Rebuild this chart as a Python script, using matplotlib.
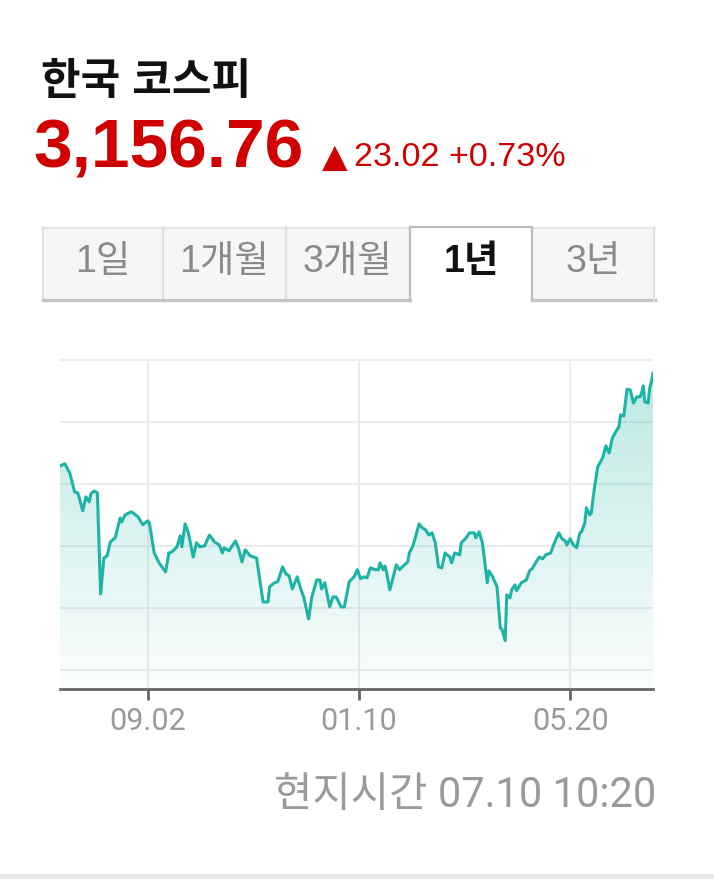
import numpy as np
import matplotlib
matplotlib.use("Agg")
import matplotlib.pyplot as plt
import matplotlib.dates as mdates
from matplotlib.patches import Rectangle, Polygon
from matplotlib.lines import Line2D

plt.rcParams['font.family'] = ['Liberation Sans', 'Noto Sans CJK KR', 'DejaVu Sans']

# KOSPI, 1 year
dates = [
    "2024-07-10", "2024-07-13", "2024-07-16", "2024-07-19", "2024-07-21", "2024-07-24",
    "2024-07-26", "2024-07-28", "2024-07-29", "2024-07-31", "2024-08-02", "2024-08-04",
    "2024-08-06", "2024-08-08", "2024-08-10", "2024-08-13", "2024-08-16", "2024-08-17",
    "2024-08-19", "2024-08-23", "2024-08-27", "2024-08-30", "2024-09-02", "2024-09-03",
    "2024-09-06", "2024-09-09", "2024-09-13", "2024-09-15", "2024-09-17", "2024-09-20",
    "2024-09-22", "2024-09-23", "2024-09-25", "2024-09-27", "2024-09-30", "2024-10-02",
    "2024-10-04", "2024-10-07", "2024-10-10", "2024-10-13", "2024-10-16", "2024-10-18",
    "2024-10-19", "2024-10-22", "2024-10-26", "2024-10-28", "2024-10-30", "2024-11-01",
    "2024-11-04", "2024-11-08", "2024-11-12", "2024-11-15", "2024-11-16", "2024-11-19",
    "2024-11-21", "2024-11-24", "2024-11-26", "2024-11-28", "2024-11-30", "2024-12-03",
    "2024-12-05", "2024-12-07", "2024-12-10", "2024-12-12", "2024-12-15", "2024-12-17",
    "2024-12-18", "2024-12-20", "2024-12-23", "2024-12-25", "2024-12-27", "2024-12-30",
    "2025-01-01", "2025-01-04", "2025-01-07", "2025-01-09", "2025-01-11", "2025-01-13",
    "2025-01-15", "2025-01-17", "2025-01-20", "2025-01-22", "2025-01-23", "2025-01-25",
    "2025-01-26", "2025-01-27", "2025-01-29", "2025-01-31", "2025-02-02", "2025-02-04",
    "2025-02-05", "2025-02-09", "2025-02-10", "2025-02-12", "2025-02-14", "2025-02-16",
    "2025-02-18", "2025-02-20", "2025-02-22", "2025-02-24", "2025-02-26", "2025-02-28",
    "2025-03-02", "2025-03-04", "2025-03-07", "2025-03-08", "2025-03-10", "2025-03-13",
    "2025-03-14", "2025-03-17", "2025-03-19", "2025-03-22", "2025-03-23", "2025-03-25",
    "2025-03-27", "2025-03-30", "2025-03-31", "2025-04-02", "2025-04-05", "2025-04-07",
    "2025-04-08", "2025-04-10", "2025-04-11", "2025-04-13", "2025-04-14", "2025-04-16",
    "2025-04-17", "2025-04-20", "2025-04-23", "2025-04-25", "2025-04-27", "2025-04-29",
    "2025-05-01", "2025-05-03", "2025-05-05", "2025-05-08", "2025-05-10", "2025-05-13",
    "2025-05-15", "2025-05-17", "2025-05-18", "2025-05-20", "2025-05-22", "2025-05-24",
    "2025-05-26", "2025-05-27", "2025-05-29", "2025-05-30", "2025-06-01", "2025-06-02",
    "2025-06-04", "2025-06-06", "2025-06-09", "2025-06-11", "2025-06-13", "2025-06-15",
    "2025-06-17", "2025-06-19", "2025-06-20", "2025-06-22", "2025-06-24", "2025-06-26",
    "2025-06-28", "2025-06-30", "2025-07-02", "2025-07-03", "2025-07-04", "2025-07-05",
    "2025-07-07", "2025-07-08", "2025-07-09", "2025-07-10",
]
values = [
    2858, 2865, 2835, 2774, 2771, 2713,
    2758, 2742, 2768, 2777, 2771, 2445,
    2561, 2568, 2613, 2626, 2690, 2677,
    2700, 2710, 2694, 2668, 2681, 2674,
    2577, 2545, 2516, 2577, 2581, 2597,
    2632, 2597, 2671, 2642, 2564, 2610,
    2597, 2600, 2635, 2613, 2603, 2577,
    2594, 2584, 2616, 2590, 2548, 2587,
    2568, 2561, 2419, 2419, 2468, 2481,
    2484, 2532, 2510, 2503, 2461, 2500,
    2464, 2435, 2364, 2435, 2490, 2490,
    2461, 2481, 2403, 2435, 2435, 2403,
    2403, 2484, 2500, 2523, 2494, 2500,
    2497, 2529, 2523, 2523, 2545, 2523,
    2535, 2516, 2458, 2497, 2539, 2523,
    2529, 2548, 2577, 2597, 2632, 2671,
    2658, 2652, 2635, 2642, 2610, 2532,
    2529, 2577, 2564, 2545, 2577, 2571,
    2610, 2626, 2642, 2642, 2626, 2645,
    2610, 2481, 2519, 2503, 2468, 2335,
    2332, 2294, 2442, 2432, 2458, 2474,
    2455, 2481, 2490, 2519, 2529, 2548,
    2564, 2558, 2571, 2577, 2606, 2642,
    2623, 2616, 2603, 2623, 2603, 2594,
    2642, 2645, 2674, 2723, 2700, 2706,
    2790, 2855, 2884, 2923, 2900, 2948,
    2968, 2984, 3023, 3019, 3106, 3103,
    3061, 3081, 3081, 3094, 3116, 3065,
    3061, 3110, 3129, 3157,
]

grid_levels = [2200, 2400, 2600, 2800, 3000, 3200]
tick_dates = ["2024-09-02", "2025-01-10", "2025-05-20"]
tick_labels = ["09.02", "01.10", "05.20"]
tabs = ["1일", "1개월", "3개월", "1년", "3년"]
selected_tab = 3

title = "한국 코스피"
last_price = "3,156.76"
change = "23.02 +0.73%"
footer = "현지시간 07.10 10:20"

W, H = 714, 891
RED = "#d00000"
TEAL = "#1eb4a5"


def fx(x):
    return x / W


def fy(y):
    return 1 - y / H


fig = plt.figure(figsize=(W / 100, H / 100), dpi=100)
fig.patch.set_facecolor("white")

# header
fig.text(fx(41), fy(83), title, fontsize=31, fontweight="bold", color="#111111",
         ha="left", va="center")
fig.text(fx(33), fy(150), last_price, fontsize=50, fontweight="bold", color=RED,
         ha="left", va="center")
fig.text(fx(335), fy(157), "▲", fontsize=24, color=RED, ha="center", va="center",
         family="DejaVu Sans")
fig.text(fx(354), fy(158), change, fontsize=24.5, color=RED, ha="left", va="center")

# tabs
tab_edges = [43, 163, 286, 410, 532, 655]
tab_top, tab_bot = 227, 301
for i, lab in enumerate(tabs):
    x0, x1 = tab_edges[i], tab_edges[i + 1]
    sel = i == selected_tab
    fig.patches.append(Rectangle((fx(x0), fy(tab_bot)), fx(x1 - x0), (tab_bot - tab_top) / H,
                                 transform=fig.transFigure,
                                 facecolor="white" if sel else "#f6f6f6",
                                 edgecolor="none", zorder=1))
    fig.text(fx((x0 + x1) / 2), fy(262), lab, fontsize=27,
             fontweight="bold" if sel else "normal",
             color="#111111" if sel else "#8a8a8a", ha="center", va="center")
    if sel:
        col = "#bdbdbd"
        fig.lines.append(Line2D([fx(x0), fx(x0), fx(x1), fx(x1)],
                                [fy(tab_bot), fy(tab_top), fy(tab_top), fy(tab_bot)],
                                transform=fig.transFigure, color=col, lw=1.6, zorder=3))
    else:
        fig.lines.append(Line2D([fx(x0), fx(x1)], [fy(tab_top + 1), fy(tab_top + 1)],
                                transform=fig.transFigure, color="#e0e0e0", lw=1.2, zorder=2))
        fig.lines.append(Line2D([fx(x0), fx(x0)], [fy(tab_top), fy(tab_bot)],
                                transform=fig.transFigure, color="#e0e0e0", lw=1.5, zorder=2))
        fig.lines.append(Line2D([fx(x0), fx(x1)], [fy(tab_bot - 1), fy(tab_bot - 1)],
                                transform=fig.transFigure, color="#c4c4c4", lw=2.4, zorder=2))
fig.lines.append(Line2D([fx(tab_edges[-1] - 1)] * 2, [fy(tab_top), fy(tab_bot)],
                        transform=fig.transFigure, color="#e0e0e0", lw=1.5, zorder=2))

# chart
ax = fig.add_axes([fx(60), fy(689), fx(653 - 60), (689 - 355) / H])
x = np.array(dates, dtype="datetime64[D]")
xn = mdates.date2num(x)
ymin, ymax = 2138, 3216

for lv in grid_levels:
    ax.axhline(lv, color="#ececec", lw=1.5, zorder=0)
for td in tick_dates:
    ax.plot([np.datetime64(td)] * 2, [ymin, 3200], color="#ececec", lw=1.5, zorder=0)

ax.plot(x, values, color=TEAL, lw=2.2, zorder=4, solid_joinstyle="round")

# gradient fill under the line
verts = [(xn[0], ymin)] + list(zip(xn, values)) + [(xn[-1], ymin)]
poly = Polygon(verts, closed=True, facecolor="none", edgecolor="none")
ax.add_patch(poly)
grad = np.zeros((256, 1, 4))
grad[..., :3] = matplotlib.colors.to_rgb(TEAL)
grad[:, 0, 3] = np.linspace(0.02, 0.30, 256)
im = ax.imshow(grad, extent=[xn[0], xn[-1], ymin, max(values)], origin="lower",
               aspect="auto", zorder=2, interpolation="bilinear")
im.set_clip_path(poly)

ax.set_xlim(xn[0], xn[-1])
ax.set_ylim(ymin, ymax)
ax.set_yticks([])
ax.set_xticks(mdates.date2num(np.array(tick_dates, dtype="datetime64[D]")))
ax.set_xticklabels(tick_labels, family=["Roboto", "Liberation Sans"])
ax.tick_params(axis="x", direction="out", length=8, width=2, color="#666666",
               labelcolor="#9a9a9a", labelsize=22, pad=5)
for s in ["top", "left", "right"]:
    ax.spines[s].set_visible(False)
ax.spines["bottom"].set_color("#666666")
ax.spines["bottom"].set_linewidth(2)

# footer
fig.text(fx(656), fy(795), footer, fontsize=30, color="#9a9a9a", ha="right", va="center",
         family=["Roboto", "Noto Sans CJK KR"])
fig.patches.append(Rectangle((0, fy(879)), 1, 5 / H, transform=fig.transFigure,
                             facecolor="#e6e6e6", edgecolor="none"))

fig.savefig("out.png", dpi=100)
